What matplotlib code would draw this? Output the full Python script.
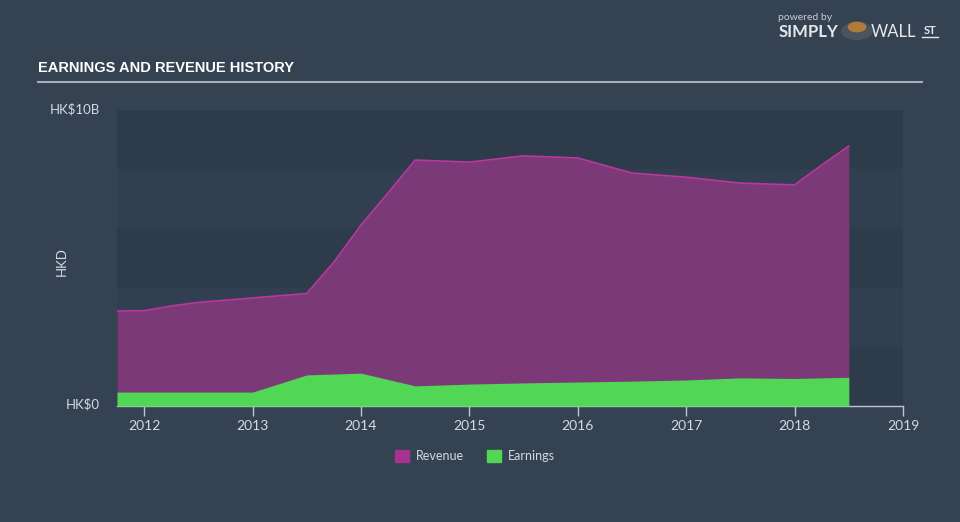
#!/usr/bin/env python3
import matplotlib
matplotlib.use("Agg")
import matplotlib.pyplot as plt
from matplotlib.patches import Patch

# ------------------------------------------------------------
# DATA (HK$ billions, fractional years)
# ------------------------------------------------------------

rev_years = [2011.75, 2012.0, 2012.25, 2012.5, 2013.0, 2013.5, 2013.75, 2014.0,
             2014.25, 2014.5, 2015.0, 2015.5, 2016.0, 2016.5, 2017.0, 2017.5,
             2018.0, 2018.25, 2018.5]
revenue = [3.21, 3.22, 3.38, 3.50, 3.65, 3.80, 4.86, 6.11,
           7.20, 8.31, 8.24, 8.45, 8.38, 7.87, 7.73, 7.53,
           7.47, 8.14, 8.78]

earn_years = [2011.75, 2012.0, 2012.5, 2013.0, 2013.5, 2014.0, 2014.5, 2015.0,
              2015.5, 2016.0, 2016.5, 2017.0, 2017.5, 2018.0, 2018.5]
earnings = [0.47, 0.47, 0.47, 0.47, 1.05, 1.11, 0.68, 0.74,
            0.78, 0.81, 0.84, 0.88, 0.95, 0.93, 0.97]

year_ticks = [2012, 2013, 2014, 2015, 2016, 2017, 2018, 2019]

# ------------------------------------------------------------
# STYLE
# ------------------------------------------------------------

BG = "#344252"
BAND_DARK = "#2e3b4a"
BAND_LIGHT = "#323f50"
REV_FILL = "#7b3a77"
REV_LINE = "#b8389f"
EARN = "#52d655"
TXT = "#d5dae0"

plt.rcParams["font.family"] = ["Lato", "DejaVu Sans"]

fig = plt.figure(figsize=(9.6, 5.22), dpi=100, facecolor=BG)
ax = fig.add_axes([117 / 960, 1 - 406 / 522, 786 / 960, 296 / 522])
ax.set_facecolor(BG)

# alternating bands
for i in range(5):
    ax.axhspan(i * 2, (i + 1) * 2, color=BAND_DARK if i % 2 == 0 else BAND_LIGHT,
               lw=0, zorder=0)

ax.fill_between(rev_years, revenue, 0, color=REV_FILL, lw=0, zorder=1)
ax.plot(rev_years, revenue, color=REV_LINE, lw=1.2, zorder=2)
ax.fill_between(earn_years, earnings, 0, color=EARN, lw=0, zorder=3)

ax.set_xlim(2011.75, 2019.0)
ax.set_ylim(0, 10)

for s in ["top", "right", "left"]:
    ax.spines[s].set_visible(False)
ax.spines["bottom"].set_color("#c0c6ce")
ax.spines["bottom"].set_linewidth(1)

ax.set_xticks(year_ticks)
ax.set_xticklabels([str(y) for y in year_ticks])
ax.tick_params(axis="x", colors="#c0c6ce", length=7, width=1, labelsize=10,
               labelcolor=TXT, pad=3)
ax.set_yticks([])

# y labels
fig.text(100 / 960, 1 - 109 / 522, "HK$10B", color=TXT, fontsize=9.5,
         ha="right", va="center")
fig.text(100 / 960, 1 - 404 / 522, "HK$0", color=TXT, fontsize=9.5,
         ha="right", va="center")
fig.text(62 / 960, 1 - 262 / 522, "HKD", color=TXT, fontsize=9.5,
         ha="center", va="center", rotation=90)

# title + rule
fig.text(38 / 960, 1 - 68 / 522, "EARNINGS AND REVENUE HISTORY", color="white",
         fontsize=10.5, fontweight="bold", family=["Liberation Sans", "DejaVu Sans"],
         ha="left", va="center")
fig.add_artist(plt.Line2D([38 / 960, 922 / 960], [1 - 82 / 522, 1 - 82 / 522],
                          color="#a9b0b9", lw=1.5))

# logo
fig.text(805 / 960, 1 - 17 / 522, "powered by", color="#c8ccd2", fontsize=7.5,
         ha="center", va="center")
fig.text(808 / 960, 1 - 32 / 522, "SIMPLY", color="#e6e8eb", fontsize=12,
         fontweight="bold", ha="center", va="center")
fig.add_artist(plt.Circle((857 / 960, 1 - 31 / 522), 0.016, transform=fig.transFigure,
                          color="#4a535e", zorder=5))
fig.add_artist(plt.Circle((857 / 960, 1 - 27 / 522), 0.009, transform=fig.transFigure,
                          color="#b07a3a", zorder=6))
fig.text(893 / 960, 1 - 32 / 522, "WALL", color="#e6e8eb", fontsize=12,
         ha="center", va="center")
fig.text(930 / 960, 1 - 30 / 522, "ST", color="#e6e8eb", fontsize=8,
         fontweight="bold", ha="center", va="center")
fig.add_artist(plt.Line2D([922 / 960, 938 / 960], [1 - 37 / 522, 1 - 37 / 522],
                          color="#e6e8eb", lw=1))

# legend
handles = [Patch(color="#a5338f", label="Revenue"), Patch(color=EARN, label="Earnings")]
fig.legend(handles=handles, loc="center", bbox_to_anchor=(475 / 960, 1 - 456 / 522),
           ncol=2, frameon=False, fontsize=9, labelcolor=TXT, handlelength=1.1,
           handleheight=1.1, columnspacing=1.8, handletextpad=0.6)

fig.savefig("out.png", dpi=100, facecolor=BG)
